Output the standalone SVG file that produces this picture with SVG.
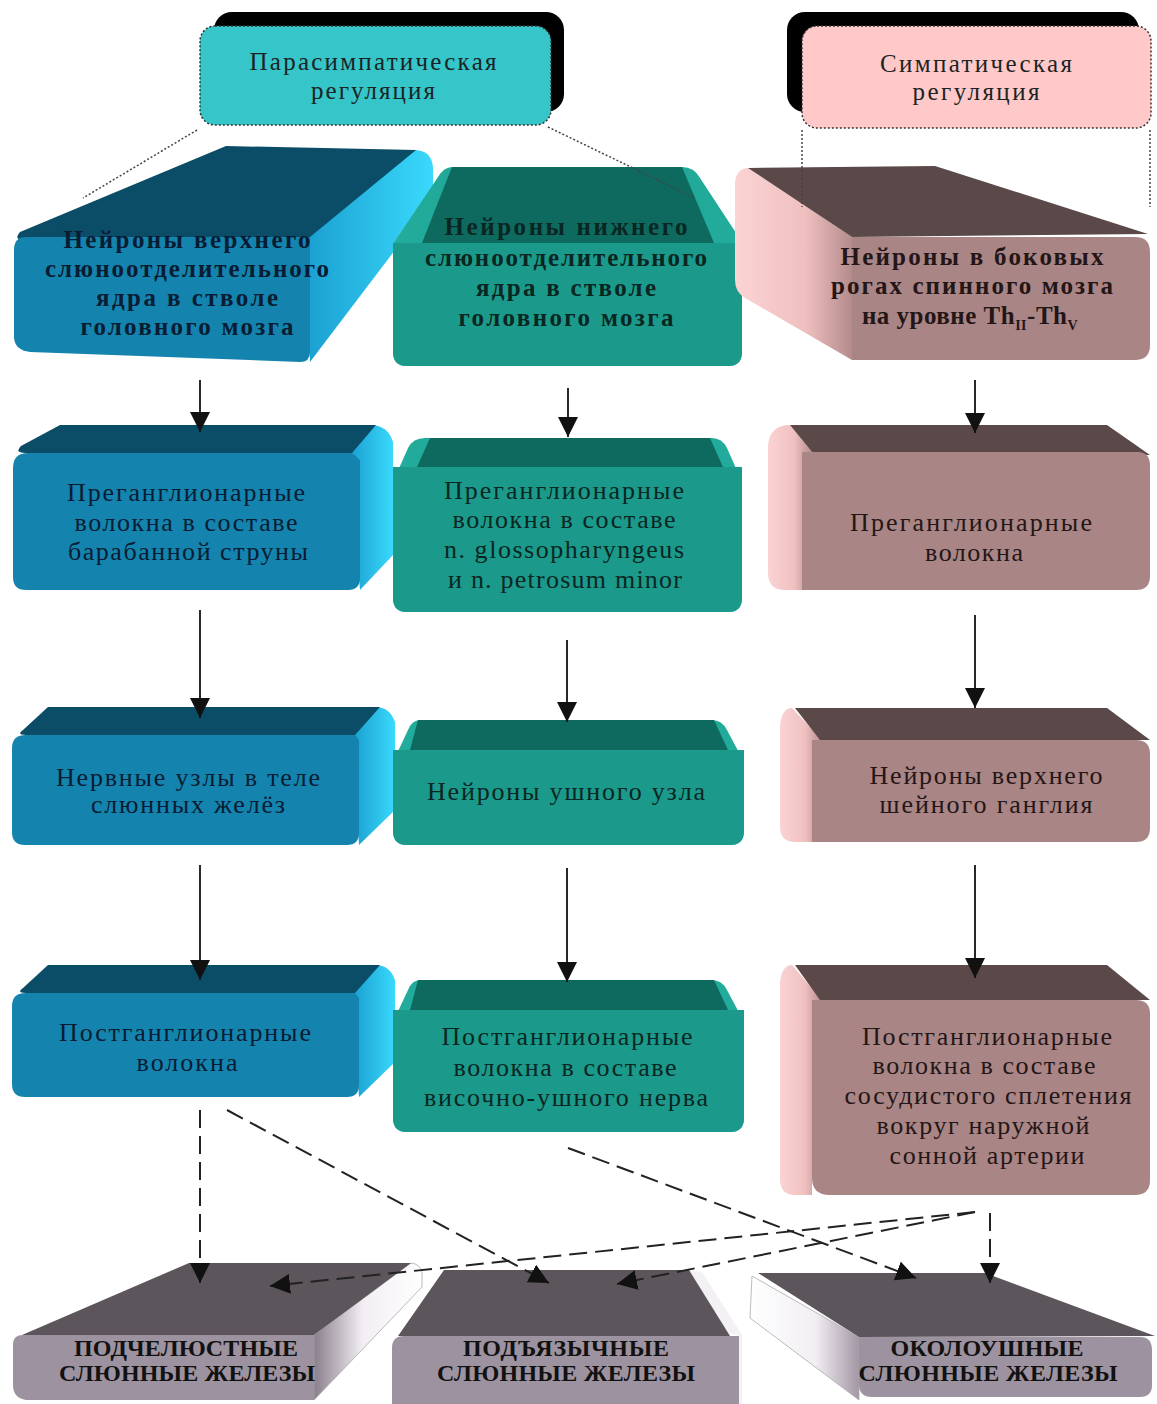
<svg xmlns="http://www.w3.org/2000/svg" width="1157" height="1404" viewBox="0 0 1157 1404">
<defs>
<linearGradient id="blueSide" x1="0" y1="0" x2="1" y2="0"><stop offset="0" stop-color="#1a9fd0"/><stop offset="1" stop-color="#3ad9fc"/></linearGradient>
<linearGradient id="pinkSide" x1="0" y1="0" x2="1" y2="0"><stop offset="0" stop-color="#fbd3d3"/><stop offset="0.6" stop-color="#f0c0c0"/><stop offset="1" stop-color="#b48b8b"/></linearGradient>
<linearGradient id="tealSide" x1="0" y1="0" x2="1" y2="0"><stop offset="0" stop-color="#23ad9d"/><stop offset="0.5" stop-color="#1c9d8e"/><stop offset="1" stop-color="#23ad9d"/></linearGradient>
<linearGradient id="glandR" x1="0" y1="0" x2="1" y2="0"><stop offset="0" stop-color="#8a7f8c"/><stop offset="0.45" stop-color="#f2eef3"/><stop offset="1" stop-color="#ffffff"/></linearGradient>
<linearGradient id="glandL" x1="0" y1="0" x2="1" y2="0"><stop offset="0" stop-color="#ffffff"/><stop offset="0.6" stop-color="#f2eef3"/><stop offset="1" stop-color="#a397a5"/></linearGradient>
<marker id="ah" markerUnits="userSpaceOnUse" markerWidth="20" markerHeight="20" refX="20" refY="10" orient="auto"><path d="M0,0 L20,10 L0,20 Z" fill="#111"/></marker>
<style>
.txt{font-family:"Liberation Serif","Times New Roman",serif;font-size:26px;text-anchor:middle}
.hd{font-size:25px}
.bold{font-weight:bold;font-size:25px}
.gl{font-weight:bold;font-size:24px;fill:#111}
.cb{fill:#081c33}
.ct{fill:#0a2622}
.cp{fill:#241616}
.ch{fill:#1a2424}
.bFront{fill:#1484ae}
.bTop{fill:#0b4d67}
.bSide{fill:url(#blueSide)}
.tFront{fill:#1b9a8b}
.tTop{fill:#0e6a5f}
.tSide{fill:url(#tealSide)}
.pFront{fill:#a98585}
.pTop{fill:#5b4949}
.pSide{fill:url(#pinkSide)}
.gFront{fill:#9d929f}
.gTop{fill:#5c555c}
.hdr{stroke:#333;stroke-width:1.5;stroke-dasharray:2 2}
.dot{stroke:#444;stroke-width:1.5;stroke-dasharray:2 2;fill:none}
.arr{stroke:#111;stroke-width:1.8;fill:none;marker-end:url(#ah)}
.dash{stroke:#222;stroke-width:2;fill:none;stroke-dasharray:18 8;marker-end:url(#ah)}
</style>
</defs>
<rect width="1157" height="1404" fill="#ffffff"/>

<!-- Header nodes -->
<g id="hdr-para">
<rect x="214" y="12" width="350" height="100" rx="18" fill="#000"/>
<rect x="200" y="26" width="351" height="99" rx="15" fill="#36c5c8" class="hdr"/>
<text class="txt hd ch" x="373" y="70" textLength="247" lengthAdjust="spacing">Парасимпатическая</text>
<text class="txt hd ch" x="373" y="99" textLength="124" lengthAdjust="spacing">регуляция</text>
</g>
<g id="hdr-symp">
<rect x="787" y="12" width="352" height="100" rx="18" fill="#000"/>
<rect x="802" y="26" width="349" height="102" rx="15" fill="#ffc9c9" class="hdr"/>
<text class="txt hd ch" x="976" y="72" textLength="192" lengthAdjust="spacing">Симпатическая</text>
<text class="txt hd ch" x="976" y="100" textLength="127" lengthAdjust="spacing">регуляция</text>
</g>

<!-- Row 1 -->
<g id="n-a">
<path class="bSide" d="M305,238 L414,150 Q432,150 433,168 L433,200 L310,362 Z"/>
<path class="bTop" d="M226,146 L416,150 L310,237 L24,240 Q13,240 20,232 Z"/>
<path class="bFront" d="M26,237 L310,237 L310,352 Q310,362 300,362 L30,352 Q15,350 14,338 L14,250 Q14,237 26,237 Z"/>
<text class="txt bold cb" x="187" y="248" textLength="247" lengthAdjust="spacing">Нейроны верхнего</text>
<text class="txt bold cb" x="187" y="277" textLength="284" lengthAdjust="spacing">слюноотделительного</text>
<text class="txt bold cb" x="187" y="306" textLength="182" lengthAdjust="spacing">ядра в стволе</text>
<text class="txt bold cb" x="187" y="335" textLength="213" lengthAdjust="spacing">головного мозга</text>
</g>
<g id="n-b">
<path class="tSide" d="M452,167 L682,167 Q694,167 700,178 L742,242 L742,352 Q742,366 728,366 L407,366 Q393,366 393,352 L393,244 L438,177 Q444,167 452,167 Z"/>
<path class="tTop" d="M452,167 L682,167 L714,243 L422,243 Z"/>
<path class="tFront" d="M393,243 L742,243 L742,352 Q742,366 728,366 L407,366 Q393,366 393,352 Z"/>
<text class="txt bold ct" x="566" y="235" textLength="243" lengthAdjust="spacing">Нейроны нижнего</text>
<text class="txt bold ct" x="566" y="266" textLength="282" lengthAdjust="spacing">слюноотделительного</text>
<text class="txt bold ct" x="566" y="296" textLength="180" lengthAdjust="spacing">ядра в стволе</text>
<text class="txt bold ct" x="566" y="326" textLength="215" lengthAdjust="spacing">головного мозга</text>
</g>
<g id="n-c">
<path class="pSide" d="M748,168 L852,237 L852,360 L745,298 Q735,292 735,280 L735,182 Q737,168 748,168 Z"/>
<path class="pTop" d="M748,168 L935,166 L1148,234 L852,237 Z"/>
<path class="pFront" d="M852,237 L1135,237 Q1150,237 1150,252 L1150,345 Q1150,360 1135,360 L852,360 Z"/>
<text class="txt bold cp" x="972" y="265" textLength="263" lengthAdjust="spacing">Нейроны в боковых</text>
<text class="txt bold cp" x="972" y="294" textLength="282" lengthAdjust="spacing">рогах спинного мозга</text>
<text class="txt bold cp" x="970" y="324" letter-spacing="0.5">на уровне Th<tspan font-size="14" dy="6">II</tspan><tspan dy="-6">-Th</tspan><tspan font-size="14" dy="6">V</tspan></text>
</g>

<!-- Row 2 -->
<g id="n-d">
<path class="bSide" d="M370,425 Q388,425 393,442 L393,555 L360,590 L350,453 Z"/>
<path class="bTop" d="M60,425 L376,425 L352,453 L26,453 Q14,453 21,446 Z"/>
<path class="bFront" d="M28,453 L352,453 L360,460 L360,578 Q360,590 348,590 L26,590 Q13,590 13,577 L13,468 Q13,453 28,453 Z"/>
<text class="txt cb" x="186" y="501" textLength="238" lengthAdjust="spacing">Преганглионарные</text>
<text class="txt cb" x="186" y="531" textLength="223" lengthAdjust="spacing">волокна в составе</text>
<text class="txt cb" x="188" y="560" textLength="240" lengthAdjust="spacing">барабанной струны</text>
</g>
<g id="n-e">
<path class="tSide" d="M425,438 L712,438 Q722,438 727,448 L742,482 L742,598 Q742,612 728,612 L407,612 Q393,612 393,598 L393,482 L408,448 Q413,438 425,438 Z"/>
<path class="tTop" d="M430,438 L710,438 L723,467 L417,467 Z"/>
<path class="tFront" d="M393,467 L742,467 L742,598 Q742,612 728,612 L407,612 Q393,612 393,598 Z"/>
<text class="txt ct" x="564" y="499" textLength="240" lengthAdjust="spacing">Преганглионарные</text>
<text class="txt ct" x="564" y="528" textLength="223" lengthAdjust="spacing">волокна в составе</text>
<text class="txt ct" x="564" y="558" textLength="240" lengthAdjust="spacing">n. glossopharyngeus</text>
<text class="txt ct" x="565" y="588" textLength="234" lengthAdjust="spacing">и n. petrosum minor</text>
</g>
<g id="n-f">
<path class="pSide" d="M790,425 L812,452 L802,452 L802,590 L785,590 Q768,590 768,573 L768,445 Q770,425 790,425 Z"/>
<path class="pTop" d="M790,425 L1107,425 L1150,455 L812,452 Z"/>
<path class="pFront" d="M802,452 L1138,452 Q1150,452 1150,466 L1150,576 Q1150,590 1136,590 L802,590 Z"/>
<text class="txt cp" x="971" y="531" textLength="242" lengthAdjust="spacing">Преганглионарные</text>
<text class="txt cp" x="974" y="561" textLength="98" lengthAdjust="spacing">волокна</text>
</g>

<!-- Row 3 -->
<g id="n-g">
<path class="bSide" d="M375,707 Q390,707 395,722 L395,810 L359,845 L353,735 Z"/>
<path class="bTop" d="M48,707 L380,707 L355,735 L26,735 Q16,735 23,730 Z"/>
<path class="bFront" d="M26,735 L355,735 L359,740 L359,833 Q359,845 347,845 L25,845 Q12,845 12,832 L12,748 Q12,735 26,735 Z"/>
<text class="txt cb" x="188" y="786" textLength="264" lengthAdjust="spacing">Нервные узлы в теле</text>
<text class="txt cb" x="188" y="813" textLength="194" lengthAdjust="spacing">слюнных желёз</text>
</g>
<g id="n-h">
<path class="tSide" d="M420,720 L712,720 Q722,720 727,730 L744,762 L744,831 Q744,845 730,845 L407,845 Q393,845 393,831 L393,762 L408,730 Q412,720 420,720 Z"/>
<path class="tTop" d="M418,720 L714,720 L728,750 L410,750 Z"/>
<path class="tFront" d="M393,750 L744,750 L744,831 Q744,845 730,845 L407,845 Q393,845 393,831 Z"/>
<text class="txt ct" x="566" y="800" textLength="278" lengthAdjust="spacing">Нейроны ушного узла</text>
</g>
<g id="n-i">
<path class="pSide" d="M792,708 L822,740 L812,740 L812,842 L795,842 Q780,842 780,826 L780,725 Q782,708 792,708 Z"/>
<path class="pTop" d="M795,708 L1107,708 L1150,740 L820,740 Z"/>
<path class="pFront" d="M812,740 L1136,740 Q1150,740 1150,754 L1150,828 Q1150,842 1136,842 L812,842 Z"/>
<text class="txt cp" x="986" y="784" textLength="233" lengthAdjust="spacing">Нейроны верхнего</text>
<text class="txt cp" x="986" y="813" textLength="213" lengthAdjust="spacing">шейного ганглия</text>
</g>

<!-- Row 4 -->
<g id="n-j">
<path class="bSide" d="M375,965 Q390,965 395,980 L395,1062 L359,1097 L353,993 Z"/>
<path class="bTop" d="M48,965 L380,965 L355,993 L26,993 Q16,993 23,988 Z"/>
<path class="bFront" d="M26,993 L355,993 L359,998 L359,1085 Q359,1097 347,1097 L25,1097 Q12,1097 12,1084 L12,1006 Q12,993 26,993 Z"/>
<text class="txt cb" x="185" y="1041" textLength="252" lengthAdjust="spacing">Постганглионарные</text>
<text class="txt cb" x="187" y="1071" textLength="101" lengthAdjust="spacing">волокна</text>
</g>
<g id="n-k">
<path class="tSide" d="M420,980 L712,980 Q722,980 727,990 L744,1022 L744,1118 Q744,1132 730,1132 L407,1132 Q393,1132 393,1118 L393,1022 L408,990 Q412,980 420,980 Z"/>
<path class="tTop" d="M418,980 L714,980 L728,1010 L410,1010 Z"/>
<path class="tFront" d="M393,1010 L744,1010 L744,1118 Q744,1132 730,1132 L407,1132 Q393,1132 393,1118 Z"/>
<text class="txt ct" x="567" y="1045" textLength="251" lengthAdjust="spacing">Постганглионарные</text>
<text class="txt ct" x="565" y="1076" textLength="223" lengthAdjust="spacing">волокна в составе</text>
<text class="txt ct" x="566" y="1106" textLength="284" lengthAdjust="spacing">височно-ушного нерва</text>
</g>
<g id="n-l">
<path class="pSide" d="M792,965 L822,1000 L812,1000 L812,1195 L795,1195 Q780,1195 780,1179 L780,982 Q782,965 792,965 Z"/>
<path class="pTop" d="M795,965 L1107,965 L1150,1000 L820,1000 Z"/>
<path class="pFront" d="M812,1000 L1136,1000 Q1150,1000 1150,1014 L1150,1180 Q1150,1195 1135,1195 L830,1195 Q812,1195 812,1178 Z"/>
<text class="txt cp" x="987" y="1045" textLength="250" lengthAdjust="spacing">Постганглионарные</text>
<text class="txt cp" x="984" y="1074" textLength="223" lengthAdjust="spacing">волокна в составе</text>
<text class="txt cp" x="988" y="1104" textLength="287" lengthAdjust="spacing">сосудистого сплетения</text>
<text class="txt cp" x="983" y="1134" textLength="213" lengthAdjust="spacing">вокруг наружной</text>
<text class="txt cp" x="987" y="1164" textLength="195" lengthAdjust="spacing">сонной артерии</text>
</g>

<!-- Glands -->
<g id="g-1">
<path d="M411,1263 Q420,1264 422,1272 L422,1287 L314,1400 L314,1335 Z" fill="url(#glandR)" stroke="#aaa" stroke-width="0.8"/>
<path class="gTop" d="M189,1263 L411,1263 L314,1335 L22,1335 Z"/>
<path class="gFront" d="M22,1335 L314,1335 L314,1400 L26,1400 Q13,1398 13,1385 L13,1345 Q13,1335 22,1335 Z"/>
<text class="txt gl" x="186" y="1356" textLength="224" lengthAdjust="spacing">ПОДЧЕЛЮСТНЫЕ</text>
<text class="txt gl" x="187" y="1381" textLength="256" lengthAdjust="spacing">СЛЮННЫЕ ЖЕЛЕЗЫ</text>
</g>
<g id="g-2">
<path d="M689,1270 L702,1272 L742,1335 L742,1404 L739,1404 L739,1336 L728,1333 Z" fill="#f4f1f5"/>
<path class="gTop" d="M444,1270 L689,1270 L730,1336 L398,1336 Z"/>
<path class="gFront" d="M404,1336 L739,1336 L739,1404 L392,1404 L392,1348 Q392,1336 404,1336 Z"/>
<text class="txt gl" x="566" y="1356" textLength="206" lengthAdjust="spacing">ПОДЪЯЗЫЧНЫЕ</text>
<text class="txt gl" x="566" y="1381" textLength="258" lengthAdjust="spacing">СЛЮННЫЕ ЖЕЛЕЗЫ</text>
</g>
<g id="g-3">
<path d="M752,1276 L859,1337 L859,1400 L750,1318 Z" fill="url(#glandL)" stroke="#aaa" stroke-width="0.8"/>
<path class="gTop" d="M758,1273 L985,1273 L1155,1336 L859,1337 Z"/>
<path class="gFront" d="M859,1337 L1140,1337 Q1152,1337 1152,1350 L1152,1385 Q1152,1397 1140,1397 L872,1397 Q859,1397 859,1384 Z"/>
<text class="txt gl" x="987" y="1356" textLength="193" lengthAdjust="spacing">ОКОЛОУШНЫЕ</text>
<text class="txt gl" x="988" y="1381" textLength="259" lengthAdjust="spacing">СЛЮННЫЕ ЖЕЛЕЗЫ</text>
</g>

<!-- Connectors -->
<g id="connectors">
<line class="dot" x1="197" y1="130" x2="83" y2="198"/>
<line class="dot" x1="548" y1="127" x2="695" y2="198"/>
<line class="dot" x1="802" y1="130" x2="802" y2="207"/>
<line class="dot" x1="1150" y1="130" x2="1150" y2="207"/>

<line class="arr" x1="200" y1="380" x2="200" y2="432"/>
<line class="arr" x1="568" y1="388" x2="568" y2="437"/>
<line class="arr" x1="975" y1="380" x2="975" y2="433"/>
<line class="arr" x1="200" y1="610" x2="200" y2="718"/>
<line class="arr" x1="567" y1="640" x2="567" y2="722"/>
<line class="arr" x1="975" y1="615" x2="975" y2="708"/>
<line class="arr" x1="200" y1="865" x2="200" y2="980"/>
<line class="arr" x1="567" y1="868" x2="567" y2="982"/>
<line class="arr" x1="975" y1="865" x2="975" y2="978"/>

<line class="dash" x1="200" y1="1110" x2="200" y2="1283"/>
<line class="dash" x1="227" y1="1110" x2="549" y2="1283"/>
<line class="dash" x1="568" y1="1148" x2="916" y2="1278"/>
<line class="dash" x1="975" y1="1212" x2="270" y2="1286"/>
<line class="dash" x1="975" y1="1212" x2="617" y2="1284"/>
<line class="dash" x1="990" y1="1213" x2="990" y2="1283"/>
</g>
</svg>
